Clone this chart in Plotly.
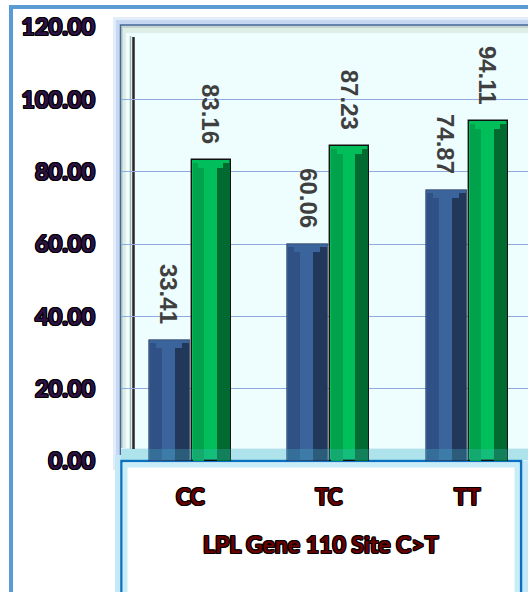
import plotly.graph_objects as go

# ---------------- data ----------------
categories = ["CC", "TC", "TT"]
series_blue = [33.41, 60.06, 74.87]
series_green = [83.16, 87.23, 94.11]
y_tick_values = [0, 20, 40, 60, 80, 100, 120]
y_tick_labels = ["0.00", "20.00", "40.00", "60.00", "80.00", "100.00", "120.00"]
x_title = "LPL Gene 110 Site C>T"

# ---------------- geometry helpers ----------------
W, H = 528, 592
ML, MR, MT, MB = 121, 0, 27, 131
PW, PH = W - ML - MR, H - MT - MB
STEP = 138.5  # pixels per category
x_idx = list(range(len(categories)))
x_range = [-0.5, -0.5 + PW / STEP]
YPU = PH / 120.0  # pixels per y unit


def pxx(p):
    return (p - ML) / PW


def pxy(p):
    return (H - MB - p) / PH


def u(px):  # pixels -> category units
    return px / STEP


OUTLINE = ("1px 0 0 #000, -1px 0 0 #000, 0 1px 0 #000, 0 -1px 0 #000, "
           "1px 1px 0 #000, -1px -1px 0 #000, 1px -1px 0 #000, -1px 1px 0 #000")

fig = go.Figure()


def bevel_bar(values, left, right, c_left, c_mid, c_right, line_color, line_w):
    width = right - left
    fig.add_trace(go.Bar(x=x_idx, y=values, offset=u(left), width=u(width),
                         marker=dict(color=c_mid, line=dict(color=line_color, width=line_w)),
                         hoverinfo="skip"))
    third_l = left + width * 0.32
    third_r = left + width * 0.64
    hl = (third_l - left - 1) / 2
    hr = (right - 1 - third_r) / 2
    faces = [
        (left + 1, hl, 3.0, c_left),
        (left + 1 + hl, hl, 8.0, c_left),
        (third_r, hr, 8.0, c_right),
        (third_r + hr, hr, 3.0, c_right),
    ]
    for off, w, cut_px, col in faces:
        fig.add_trace(go.Bar(x=x_idx, y=[v - cut_px / YPU for v in values],
                             offset=u(off), width=u(w),
                             marker=dict(color=col, line=dict(width=0)),
                             hoverinfo="skip"))


bevel_bar(series_blue, -41.5, -0.5, "#2F5185", "#3B649C", "#22385A", "#1C2E4A", 0.6)
bevel_bar(series_green, 1.5, 40.5, "#00A24C", "#00BE5A", "#006A31", "#111111", 1.4)

# ---------------- background shapes ----------------
shapes = []


def rect(x0, y0, x1, y1, fill=None, line=None, lw=0, layer="below"):
    shapes.append(dict(type="rect", xref="paper", yref="paper",
                       x0=pxx(x0), x1=pxx(x1), y0=pxy(y1), y1=pxy(y0), layer=layer,
                       fillcolor=fill if fill else "rgba(0,0,0,0)",
                       line=dict(color=line if line else "rgba(0,0,0,0)", width=lw)))


rect(11, 7, 620, 700, fill="white", line="#5B9BD5", lw=4)
rect(113, 17, 620, 470, fill="#E3EDF9")
rect(116, 20, 620, 467, fill="#C6D8F1")
rect(120.5, 25, 620, 461, fill="#C3D5CE", line="#46679A", lw=1.5)
rect(123, 28, 620, 458, fill="#DDEDE8")
rect(126, 33, 620, 452, fill="#EEFEFE")
rect(115, 455, 528, 700, fill="#C4E8F7")
rect(121, 448, 620, 461, fill="#D8F3F8")
shapes.append(dict(type="line", xref="paper", yref="paper", x0=pxx(130.5), x1=pxx(130.5),
                   y0=pxy(449), y1=pxy(36), line=dict(color="#A8B8B4", width=1.5), layer="below"))
shapes.append(dict(type="line", xref="paper", yref="paper", x0=pxx(133.5), x1=pxx(133.5),
                   y0=pxy(449), y1=pxy(37), line=dict(color="#262626", width=2.5), layer="below"))
rect(121.5, 461, 521, 700, fill="white", line="#0A70C0", lw=2.5)
rect(125, 465, 517, 700, line="rgba(185,232,248,0.8)", lw=5)
# floor tint over the bar bottoms
rect(121, 449, 620, 460, fill="rgba(70,185,205,0.28)", layer="above")

# ---------------- annotations ----------------
annotations = []
label_font = dict(family="Liberation Sans, Arial, sans-serif", size=24, color="#3F3F3F", weight="bold")
for i, v in enumerate(series_blue):
    annotations.append(dict(x=i + u(-21), y=v, xref="x", yref="y", text=f"{v:.2f}",
                            textangle=90, showarrow=False, yanchor="bottom", xanchor="center",
                            yshift=14, font=label_font))
for i, v in enumerate(series_green):
    annotations.append(dict(x=i + u(21), y=v, xref="x", yref="y", text=f"{v:.2f}",
                            textangle=90, showarrow=False, yanchor="bottom", xanchor="center",
                            yshift=14, font=label_font))
annotations.append(dict(x=pxx(321), y=pxy(544), xref="paper", yref="paper", text=x_title,
                        showarrow=False, xanchor="center", yanchor="middle",
                        font=dict(family="Lato, sans-serif", size=23, color="#6B0000",
                                  weight="bold", shadow=OUTLINE)))

fig.update_layout(
    width=W, height=H,
    margin=dict(l=ML, r=MR, t=MT, b=MB, pad=0),
    paper_bgcolor="white",
    plot_bgcolor="rgba(0,0,0,0)",
    barmode="overlay",
    bargap=0,
    showlegend=False,
    shapes=shapes,
    annotations=annotations,
    xaxis=dict(range=x_range, tickvals=x_idx, ticktext=categories, showgrid=False,
               zeroline=False, showline=False, ticks="", ticklabelstandoff=21,
               tickfont=dict(family="Lato, sans-serif", size=22, color="#6B0000",
                             weight="bold", shadow=OUTLINE)),
    yaxis=dict(range=[0, 120], tickvals=y_tick_values, ticktext=y_tick_labels,
               showgrid=True, gridcolor="#8FAADC", gridwidth=1, zeroline=False,
               showline=False, ticks="", ticklabelstandoff=25,
               tickfont=dict(family="Lato, sans-serif", size=23.5, color="#2E1245",
                             weight="bold", shadow=OUTLINE)),
)

fig.write_html("out.html")
